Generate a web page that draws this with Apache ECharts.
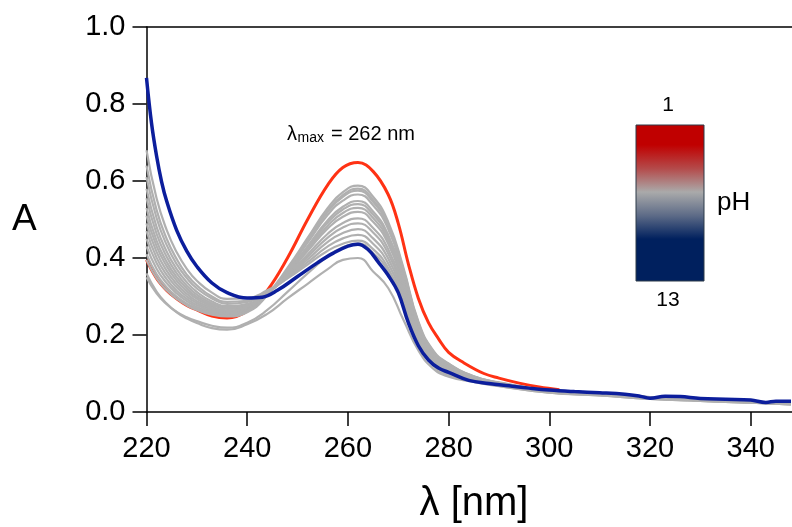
<!DOCTYPE html>
<html>
<head>
<meta charset="utf-8">
<script src="https://cdn.jsdelivr.net/npm/echarts@6/dist/echarts.min.js"></script>
<style>
html,body{margin:0;padding:0;background:#fff;}
#c{width:792px;height:527px;}
</style>
</head>
<body>
<div id="c"></div>
<script>
// ---- data ----
var xTicks = [220, 240, 260, 280, 300, 320, 340];
var yTicks = [0, 0.2, 0.4, 0.6, 0.8, 1.0];

var grayX = [220,222,224,226,228,230,233,236,240,244,248,252,256,259,262,265,268,271,274,277,280,285,290,300,310,320,330,340,348];

var gray1  = [0.680,0.555,0.473,0.415,0.372,0.341,0.310,0.294,0.296,0.316,0.347,0.383,0.419,0.437,0.445,0.423,0.374,0.285,0.178,0.120,0.096,0.082,0.070,0.053,0.046,0.037,0.031,0.026,0.022];
var gray2  = [0.640,0.525,0.450,0.397,0.357,0.329,0.300,0.286,0.289,0.312,0.348,0.389,0.430,0.451,0.460,0.437,0.386,0.294,0.184,0.124,0.099,0.083,0.071,0.052,0.045,0.036,0.030,0.025,0.021];
var gray3  = [0.610,0.504,0.434,0.384,0.348,0.321,0.295,0.281,0.286,0.311,0.351,0.396,0.442,0.465,0.475,0.451,0.399,0.304,0.190,0.128,0.102,0.085,0.072,0.053,0.046,0.037,0.031,0.026,0.022];
var gray4  = [0.580,0.481,0.417,0.371,0.337,0.312,0.287,0.275,0.281,0.309,0.353,0.403,0.453,0.479,0.490,0.466,0.412,0.314,0.196,0.132,0.105,0.084,0.070,0.051,0.044,0.035,0.029,0.024,0.020];
var gray5  = [0.555,0.463,0.403,0.360,0.328,0.305,0.282,0.271,0.277,0.308,0.355,0.409,0.463,0.491,0.503,0.478,0.423,0.322,0.201,0.136,0.108,0.086,0.071,0.052,0.045,0.036,0.030,0.025,0.021];
var gray6  = [0.530,0.445,0.390,0.350,0.321,0.299,0.278,0.268,0.275,0.308,0.359,0.418,0.477,0.507,0.520,0.494,0.437,0.333,0.208,0.140,0.112,0.087,0.073,0.053,0.046,0.037,0.030,0.025,0.021];
var gray7  = [0.510,0.431,0.379,0.341,0.314,0.294,0.274,0.264,0.273,0.308,0.361,0.423,0.484,0.517,0.530,0.504,0.445,0.339,0.212,0.143,0.114,0.088,0.073,0.054,0.046,0.037,0.031,0.026,0.022];
var gray8  = [0.490,0.416,0.367,0.332,0.307,0.288,0.270,0.260,0.269,0.306,0.362,0.427,0.492,0.526,0.540,0.513,0.454,0.346,0.216,0.146,0.116,0.089,0.074,0.054,0.047,0.038,0.031,0.026,0.022];
var gray9  = [0.470,0.401,0.356,0.324,0.300,0.283,0.266,0.257,0.267,0.305,0.363,0.431,0.498,0.533,0.548,0.521,0.460,0.351,0.219,0.148,0.118,0.090,0.075,0.055,0.047,0.038,0.031,0.026,0.022];
var gray10 = [0.450,0.387,0.345,0.315,0.294,0.278,0.262,0.254,0.265,0.305,0.368,0.440,0.512,0.549,0.565,0.537,0.475,0.362,0.226,0.153,0.121,0.091,0.075,0.055,0.047,0.038,0.032,0.026,0.022];
var gray11 = [0.430,0.372,0.335,0.308,0.288,0.273,0.259,0.252,0.263,0.305,0.370,0.445,0.520,0.559,0.575,0.546,0.483,0.368,0.230,0.155,0.124,0.092,0.076,0.056,0.048,0.039,0.032,0.027,0.023];
var gray12 = [0.410,0.358,0.324,0.300,0.282,0.269,0.256,0.250,0.262,0.306,0.374,0.452,0.530,0.571,0.588,0.559,0.494,0.376,0.235,0.159,0.126,0.093,0.077,0.056,0.048,0.039,0.032,0.027,0.023];
var gray13 = [0.395,0.347,0.316,0.294,0.277,0.265,0.253,0.248,0.259,0.303,0.370,0.446,0.523,0.563,0.580,0.551,0.487,0.371,0.232,0.157,0.125,0.092,0.076,0.055,0.047,0.038,0.031,0.026,0.022];
var gray14 = [0.360,0.313,0.282,0.259,0.243,0.231,0.218,0.214,0.228,0.255,0.295,0.333,0.371,0.395,0.400,0.365,0.322,0.240,0.160,0.112,0.092,0.078,0.067,0.050,0.043,0.034,0.029,0.024,0.020];
var gray15 = [0.350,0.308,0.280,0.260,0.246,0.236,0.224,0.219,0.232,0.265,0.312,0.360,0.405,0.428,0.438,0.413,0.366,0.280,0.176,0.120,0.096,0.080,0.068,0.050,0.043,0.034,0.029,0.024,0.020];

var redX = [220,222,224,226,228,230,233,236,240,244,248,252,256,259,262,265,268,270,272,274,276,278,280,283,287,290,294,298,302];
var redY = [0.395,0.347,0.316,0.294,0.277,0.265,0.249,0.244,0.262,0.316,0.400,0.500,0.590,0.635,0.648,0.625,0.565,0.490,0.385,0.295,0.232,0.190,0.155,0.128,0.100,0.088,0.075,0.065,0.058];

var blueX = [220,221,222,223,224,226,228,230,233,236,240,243,246,250,254,257,260,262,264,266,268,270,272,274,276,278,280,284,288,292,296,300,305,310,315,318,320,323,326,330,335,340,343,345,348];
var blueY = [0.868,0.750,0.665,0.598,0.548,0.472,0.418,0.378,0.335,0.310,0.296,0.298,0.316,0.352,0.388,0.412,0.431,0.436,0.422,0.390,0.355,0.310,0.232,0.172,0.135,0.114,0.103,0.082,0.074,0.068,0.062,0.057,0.053,0.050,0.046,0.041,0.036,0.041,0.040,0.035,0.033,0.031,0.025,0.028,0.028];

var grays = [gray1,gray2,gray3,gray4,gray5,gray6,gray7,gray8,gray9,gray10,gray11,gray12,gray13,gray14,gray15];

function zip(xs, ys){ return xs.map(function(x,i){ return [x, ys[i]]; }); }

var series = [];
series.push({type:'line', data: zip(redX, redY), showSymbol:false, smooth:0.4,
  lineStyle:{color:'#ff3214', width:3}, z:2});
grays.forEach(function(g){
  series.push({type:'line', data: zip(grayX, g), showSymbol:false, smooth:0.5,
    lineStyle:{color:'#b0b0b0', width:2.2}, z:3});
});
series.push({type:'line', data: zip(blueX, blueY), showSymbol:false, smooth:0.4,
  lineStyle:{color:'#0c1e9c', width:3.5}, z:4});

var chart = echarts.init(document.getElementById('c'), null, {renderer:'canvas'});
var FONT = 'Liberation Sans, Arial, sans-serif';
chart.setOption({
  animation:false,
  backgroundColor:'#fff',
  grid:{left:146.5, top:27, right:0, bottom:115, containLabel:false, outerBoundsMode:'none'},
  xAxis:[{
    type:'value', min:220, max:348.2, position:'bottom',
    axisLine:{show:true, onZero:false, lineStyle:{color:'#000', width:1.5}},
    axisTick:{show:true, inside:false, length:14, customValues:xTicks, lineStyle:{color:'#000', width:1.5}},
    axisLabel:{show:true, customValues:xTicks, margin:22, color:'#000', fontSize:29, fontFamily:FONT},
    splitLine:{show:false}
  },{
    type:'value', min:220, max:348.2, position:'top',
    axisLine:{show:true, onZero:false, lineStyle:{color:'#000', width:1.5}},
    axisTick:{show:false}, axisLabel:{show:false}, splitLine:{show:false}
  }],
  yAxis:{
    type:'value', min:0, max:1, interval:0.2,
    axisLine:{show:true, onZero:false, lineStyle:{color:'#000', width:1.5}},
    axisTick:{show:true, inside:false, length:14, lineStyle:{color:'#000', width:1.5}},
    axisLabel:{show:true, margin:21, color:'#000', fontSize:29, fontFamily:FONT,
      formatter:function(v){ return v.toFixed(1); }},
    splitLine:{show:false}
  },
  series: series,
  graphic:[
    {type:'text', x:12, y:220, style:{text:'A', fontSize:37, fontFamily:FONT, fill:'#000', verticalAlign:'middle', align:'left'}},
    {type:'text', x:474, y:503.6, style:{text:'λ [nm]', fontSize:40, fontFamily:FONT, fill:'#000', verticalAlign:'middle', align:'center'}},
    {type:'text', x:287, y:134.2, style:{text:'λ', fontSize:20, fontFamily:FONT, fill:'#000', verticalAlign:'middle', align:'left'}},
    {type:'text', x:297.5, y:138.6, style:{text:'max', fontSize:14, fontFamily:FONT, fill:'#000', verticalAlign:'middle', align:'left'}},
    {type:'text', x:331, y:134.2, style:{text:'= 262 nm', fontSize:20, fontFamily:FONT, fill:'#000', verticalAlign:'middle', align:'left'}},
    {type:'rect', shape:{x:636, y:125, width:68, height:156},
      style:{fill:new echarts.graphic.LinearGradient(0,0,0,1,[
        {offset:0, color:'#c00000'},
        {offset:0.13, color:'#c00000'},
        {offset:0.28, color:'#b44a4a'},
        {offset:0.43, color:'#aaaaaa'},
        {offset:0.58, color:'#5d6b87'},
        {offset:0.73, color:'#00205e'},
        {offset:1, color:'#00205e'}
      ]), stroke:'#2c3a48', lineWidth:1}},
    {type:'text', x:668, y:105.7, style:{text:'1', fontSize:21, fontFamily:FONT, fill:'#000', verticalAlign:'middle', align:'center'}},
    {type:'text', x:668, y:300.7, style:{text:'13', fontSize:21, fontFamily:FONT, fill:'#000', verticalAlign:'middle', align:'center'}},
    {type:'text', x:717, y:203.3, style:{text:'pH', fontSize:26, fontFamily:FONT, fill:'#000', verticalAlign:'middle', align:'left'}}
  ]
});
</script>
</body>
</html>
